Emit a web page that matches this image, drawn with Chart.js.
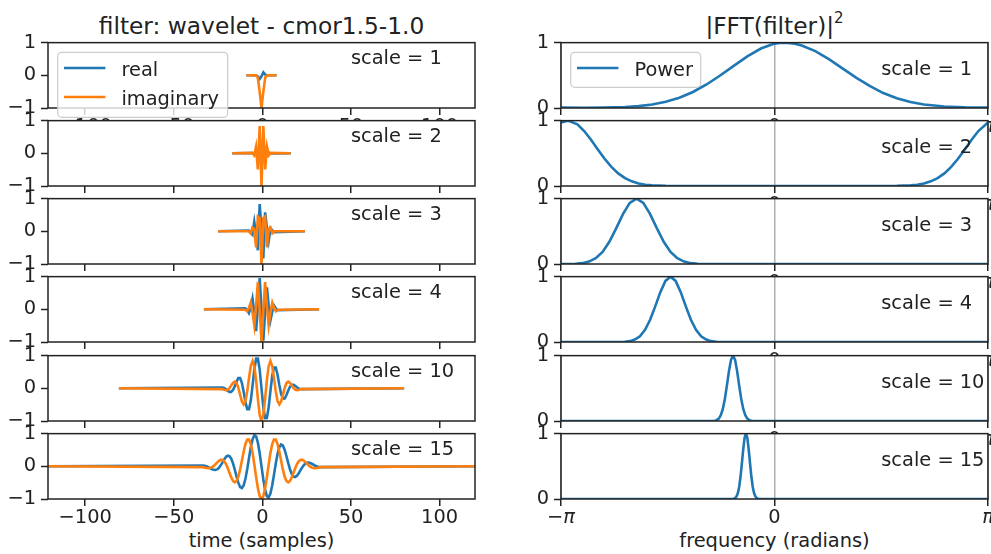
<!DOCTYPE html>
<html>
<head>
<meta charset="utf-8">
<script src="https://cdn.jsdelivr.net/npm/chart.js@4/dist/chart.umd.min.js"></script>
<style>
html, body { margin: 0; padding: 0; background: #fff; }
body { width: 991px; height: 554px; overflow: hidden; position: relative;
       font-family: 'DejaVu Sans', sans-serif; color: #222; }
canvas { position: absolute; }
.lbl { position: absolute; text-align: center; white-space: nowrap; }
.ttl { font-size: 23.3px; line-height: 28px; top: 12px; }
.xl { font-size: 19.4px; line-height: 23px; top: 529px; }
</style>
</head>
<body>
<div class="lbl ttl" style="left:48px;width:427px">filter: wavelet - cmor1.5-1.0</div>
<div class="lbl ttl" style="left:561px;width:427px">|FFT(filter)|<span style="font-size:15px;position:relative;top:-11px">2</span></div>
<div class="lbl xl" style="left:48px;width:427px">time (samples)</div>
<div class="lbl xl" style="left:561px;width:427px">frequency (radians)</div>
<script>
// wavelet scales shown in the rows
var scales = [1, 2, 3, 4, 10, 15];

// left column: discrete filter samples (time, real part, imaginary part)
var s1Time = [-9, -3.69, -2.63, -1.56, -0.5, 0.56, 1.63, 2.69, 8];
var s1Real = [0, 0, -0.027, -0.11, -0.03, 0.09, 0.021, 0, 0];
var s1Imag = [0, -0.003, -0.06, -0.49, -1, -0.49, -0.06, -0.003, 0];

var s2Time = [-17, -5.66, -4.63, -3.59, -2.56, -1.53, -0.5, 0.53, 1.56, 2.59, 3.63, 4.66, 16];
var s2Real = [0, 0.006, -0.025, 0.065, -0.104, 0.089, 0, -0.089, 0.104, -0.065, 0.025, -0.006, 0];
var s2Imag = [0, 0.012, -0.059, 0.203, -0.491, 0.837, -1, 0.837, -0.491, 0.203, -0.059, 0.012, 0];

var s3Time = [-25, -7.65, -6.63, -5.6, -4.58, -3.56, -2.54, -1.52, -0.5, 0.52, 1.54, 2.56, 3.58, 4.6, 5.63, 6.65, 24];
var s3Real = [0, 0.024, -0.025, -0.096, 0.285, -0.104, -0.58, 0.832, 0, -0.832, 0.58, 0.104, -0.285, 0.096, 0.025, -0.024, 0];
var s3Imag = [0, 0.002, -0.059, 0.112, 0.072, -0.491, 0.453, 0.405, -1, 0.405, 0.453, -0.491, 0.072, 0.112, -0.059, 0.002, 0];

var s4Time = [-33, -9.64, -8.63, -7.61, -6.59, -5.58, -4.56, -3.55, -2.53, -1.52, -0.5, 0.52, 1.53, 2.55, 3.56, 4.58, 5.59, 6.61, 7.63, 8.64, 32];
var s4Real = [0, 0.028, -0.025, -0.114, 0.065, 0.33, -0.104, -0.671, 0.089, 0.957, 0, -0.957, -0.089, 0.671, 0.104, -0.33, -0.065, 0.114, 0.025, -0.028, 0];
var s4Imag = [0, -0.013, -0.059, 0.042, 0.203, -0.087, -0.491, 0.107, 0.837, -0.051, -1, -0.051, 0.837, 0.107, -0.491, -0.087, 0.203, 0.042, -0.059, -0.013, 0];

var s10Time = [-81, -22.64, -21.63, -20.63, -19.62, -18.61, -17.61, -16.6, -15.59, -14.59, -13.58, -12.58, -11.57,
  -10.56, -9.56, -8.55, -7.54, -6.54, -5.53, -4.53, -3.52, -2.51, -1.51, -0.5, 0.51, 1.51, 2.52, 3.53, 4.53, 5.54,
  6.54, 7.55, 8.56, 9.56, 10.57, 11.58, 12.58, 13.59, 14.59, 15.6, 16.61, 17.61, 18.62, 19.63, 20.63, 21.64, 80];
var s10Real = [0, 0.026, 0.01, -0.025, -0.071, -0.108, -0.108, -0.051, 0.065, 0.206, 0.312, 0.314, 0.169,
  -0.104, -0.417, -0.637, -0.638, -0.375, 0.089, 0.586, 0.911, 0.912, 0.567, 0, -0.567, -0.912, -0.911, -0.586, -0.089, 0.375,
  0.638, 0.637, 0.417, 0.104, -0.169, -0.314, -0.312, -0.206, -0.065, 0.051, 0.108, 0.108, 0.071, 0.025, -0.01, -0.026, 0];
var s10Imag = [0, -0.025, -0.047, -0.059, -0.045, 0.005, 0.084, 0.164, 0.203, 0.158, 0.014, -0.198, -0.4,
  -0.491, -0.391, -0.094, 0.318, 0.684, 0.837, 0.677, 0.233, -0.34, -0.816, -1, -0.816, -0.34, 0.233, 0.677, 0.837, 0.684,
  0.318, -0.094, -0.391, -0.491, -0.4, -0.198, 0.014, 0.158, 0.203, 0.164, 0.084, 0.005, -0.045, -0.059, -0.047, -0.025, 0];

var s15Time = [-121, -33.64, -32.63, -31.63, -30.63, -29.62, -28.62, -27.61, -26.61, -25.6, -24.6, -23.6, -22.59,
  -21.59, -20.58, -19.58, -18.58, -17.57, -16.57, -15.56, -14.56, -13.55, -12.55, -11.55, -10.54, -9.54, -8.53,
  -7.53, -6.53, -5.52, -4.52, -3.51, -2.51, -1.5, -0.5, 0.5, 1.51, 2.51, 3.52, 4.52, 5.53, 6.53, 7.53, 8.54, 9.54,
  10.55, 11.55, 12.55, 13.56, 14.56, 15.57, 16.57, 17.58, 18.58, 19.58, 20.59, 21.59, 22.6, 23.6, 24.6, 25.61,
  26.61, 27.62, 28.62, 29.63, 30.63, 31.63, 32.64, 120];
var s15Real = [0, 0.026, 0.018, 0, -0.025, -0.056, -0.085, -0.108, -0.114, -0.096, -0.051, 0.021, 0.111,
  0.206, 0.285, 0.327, 0.314, 0.234, 0.089, -0.104, -0.316, -0.508, -0.637, -0.667, -0.58, -0.375, -0.079,
  0.261, 0.586, 0.832, 0.951, 0.912, 0.715, 0.393, 0, -0.393, -0.715, -0.912, -0.951, -0.832, -0.586, -0.261, 0.079, 0.375, 0.58,
  0.667, 0.637, 0.508, 0.316, 0.104, -0.089, -0.234, -0.314, -0.327, -0.285, -0.206, -0.111, -0.021, 0.051, 0.096, 0.114,
  0.108, 0.085, 0.056, 0.025, 0, -0.018, -0.026, 0];
var s15Imag = [0, -0.025, -0.04, -0.053, -0.059, -0.053, -0.032, 0.006, 0.056, 0.112, 0.164, 0.198, 0.199,
  0.158, 0.072, -0.052, -0.198, -0.34, -0.448, -0.491, -0.449, -0.312, -0.094, 0.177, 0.453, 0.684, 0.818,
  0.82, 0.678, 0.405, 0.046, -0.34, -0.682, -0.916, -1, -0.916, -0.682, -0.34, 0.046, 0.405, 0.678, 0.82, 0.818, 0.684, 0.453,
  0.177, -0.094, -0.312, -0.449, -0.491, -0.448, -0.34, -0.198, -0.052, 0.072, 0.158, 0.199, 0.198, 0.164, 0.112, 0.056,
  0.006, -0.032, -0.053, -0.059, -0.053, -0.04, -0.025, 0];

// right column: normalised power spectrum (frequency, power)
var p1Freq = [-3.1416, -2.8, -2.5, -2.2, -2.0, -1.8, -1.6, -1.4, -1.2, -1.0, -0.8, -0.6, -0.4, -0.2, 0, 0.1, 0.2,
  0.3, 0.4, 0.6, 0.8, 1.0, 1.2, 1.4, 1.6, 1.8, 2.0, 2.2, 2.5, 2.8, 3.1416];
var p1Power = [0.005, 0.004, 0.007, 0.016, 0.029, 0.053, 0.094, 0.156, 0.245, 0.36, 0.497, 0.645, 0.79, 0.91, 0.985, 1.0, 0.996,
  0.982, 0.957, 0.87, 0.748, 0.607, 0.465, 0.337, 0.229, 0.148, 0.091, 0.053, 0.022, 0.01, 0.005];

var p2Freq = [-3.1416, -3.04, -2.9, -2.8, -2.7, -2.6, -2.5, -2.4, -2.3, -2.2, -2.1, -2.0, -1.9, -1.8, -1.6, -1.4,
  1.6, 1.8, 2.0, 2.1, 2.2, 2.3, 2.4, 2.5, 2.6, 2.7, 2.8, 2.9, 3.0, 3.1416];
var p2Power = [0.97, 1.0, 0.943, 0.841, 0.707, 0.559, 0.417, 0.293, 0.193, 0.12, 0.071, 0.039, 0.02, 0.01, 0.002, 0,
  0, 0.002, 0.01, 0.02, 0.039, 0.071, 0.12, 0.193, 0.293, 0.417, 0.559, 0.707, 0.841, 0.971];

var p3Freq = [-3.1416, -3.03, -2.93, -2.83, -2.73, -2.63, -2.53, -2.43, -2.33, -2.23, -2.13, -2.03, -1.93, -1.83,
  -1.73, -1.63, -1.53, -1.43, -1.33, -1.23, -1.13, -1.03, 3.1416];
var p3Power = [0, 0.001, 0.004, 0.013, 0.037, 0.088, 0.185, 0.34, 0.545, 0.763, 0.935, 1.0, 0.935, 0.763,
  0.545, 0.34, 0.185, 0.088, 0.037, 0.013, 0.004, 0.001, 0];

var p4Freq = [-3.1416, -2.28, -2.205, -2.13, -2.055, -1.98, -1.905, -1.83, -1.755, -1.68, -1.605, -1.53, -1.455,
  -1.38, -1.305, -1.23, -1.155, -1.08, -1.005, -0.93, -0.855, -0.78, 3.1416];
var p4Power = [0, 0.001, 0.004, 0.013, 0.037, 0.088, 0.185, 0.34, 0.545, 0.763, 0.935, 1.0, 0.935,
  0.763, 0.545, 0.34, 0.185, 0.088, 0.037, 0.013, 0.004, 0.001, 0];

var p10Freq = [-3.1416, -0.91, -0.88, -0.85, -0.82, -0.79, -0.76, -0.73, -0.7, -0.67, -0.64, -0.61, -0.58, -0.55,
  -0.52, -0.49, -0.46, -0.43, -0.4, -0.37, -0.34, -0.31, 3.1416];
var p10Power = [0, 0.001, 0.004, 0.013, 0.037, 0.088, 0.185, 0.34, 0.545, 0.763, 0.935, 1.0, 0.935, 0.763,
  0.545, 0.34, 0.185, 0.088, 0.037, 0.013, 0.004, 0.001, 0];

var p15Freq = [-3.1416, -0.62, -0.6, -0.58, -0.56, -0.54, -0.52, -0.5, -0.48, -0.46, -0.44, -0.42, -0.4, -0.38,
  -0.36, -0.34, -0.32, -0.3, -0.28, -0.26, -0.24, -0.22, 3.1416];
var p15Power = [0, 0.001, 0.004, 0.013, 0.037, 0.088, 0.185, 0.34, 0.545, 0.763, 0.935, 1.0, 0.935, 0.763,
  0.545, 0.34, 0.185, 0.088, 0.037, 0.013, 0.004, 0.001, 0];

var timeTicks = [-100, -50, 0, 50, 100];
var freqTicks = [-Math.PI, 0, Math.PI];
var freqTickLabels = ['\u2212\u03c0', '0', '\u03c0'];

var waveRows = [[s1Time, s1Real, s1Imag], [s2Time, s2Real, s2Imag], [s3Time, s3Real, s3Imag],
  [s4Time, s4Real, s4Imag], [s10Time, s10Real, s10Imag], [s15Time, s15Real, s15Imag]];
var powerRows = [[p1Freq, p1Power], [p2Freq, p2Power], [p3Freq, p3Power],
  [p4Freq, p4Power], [p10Freq, p10Power], [p15Freq, p15Power]];

var FONT = "'DejaVu Sans', sans-serif";
var INK = '#222';
var BLUE = '#1f77b4', ORANGE = '#ff7f0e';
var rowTop = [43, 121, 199, 277, 356, 434];
var colLeft = [48, 561];
var plotW = 427, plotH = 65;
var padL = 48, padT = 12, padR = 6, padB = 40;

Chart.defaults.font.family = FONT;
Chart.defaults.font.size = 19.4;
Chart.defaults.color = INK;

function pts(xs, ys) {
  return xs.map(function (x, i) { return { x: x, y: ys[i] }; });
}

function minusify(v) {
  return v < 0 ? '\u2212' + Math.abs(v) : String(v);
}

var framePlugin = {
  id: 'frame',
  beforeDraw: function (chart) {
    var a = chart.chartArea, c = chart.ctx;
    c.save();
    c.fillStyle = '#fff';
    c.fillRect(a.left, a.top, a.right - a.left, a.bottom - a.top);
    c.restore();
  },
  afterDatasetsDraw: function (chart, args, o) {
    var a = chart.chartArea, c = chart.ctx;
    c.save();
    c.font = '19.4px ' + FONT;
    c.fillStyle = INK;
    c.textAlign = 'left';
    c.textBaseline = 'alphabetic';
    c.fillText(o.text, chart.scales.x.getPixelForValue(o.tx), chart.scales.y.getPixelForValue(o.ty));
    c.strokeStyle = INK;
    c.lineWidth = 1.5;
    c.strokeRect(a.left, a.top, a.right - a.left, a.bottom - a.top);
    if (o.legend) {
      var bx = a.left + 9.7, by = a.top + 9.7, w = o.legend.w, h = o.legend.h, r = 4;
      c.beginPath();
      c.moveTo(bx + r, by);
      c.arcTo(bx + w, by, bx + w, by + h, r);
      c.arcTo(bx + w, by + h, bx, by + h, r);
      c.arcTo(bx, by + h, bx, by, r);
      c.arcTo(bx, by, bx + w, by, r);
      c.closePath();
      c.fillStyle = 'rgba(255,255,255,0.8)';
      c.fill();
      c.strokeStyle = '#cccccc';
      c.lineWidth = 1.2;
      c.stroke();
      chart.data.datasets.forEach(function (ds, i) {
        var cy = by + 15.6 + i * 29;
        c.strokeStyle = ds.borderColor;
        c.lineWidth = 2.6;
        c.beginPath();
        c.moveTo(bx + 6.3, cy);
        c.lineTo(bx + 47.7, cy);
        c.stroke();
        c.fillStyle = INK;
        c.textBaseline = 'alphabetic';
        c.fillText(ds.label, bx + 63.7, cy + 8);
      });
    }
    c.restore();
  }
};

function makePanel(col, row) {
  var cv = document.createElement('canvas');
  cv.width = padL + plotW + padR;
  cv.height = padT + plotH + padB;
  cv.style.left = (colLeft[col] - padL) + 'px';
  cv.style.top = (rowTop[row] - padT) + 'px';
  document.body.appendChild(cv);

  var right = col === 1;
  var datasets;
  if (right) {
    var p = powerRows[row];
    datasets = [{ label: 'Power', data: pts(p[0], p[1]), borderColor: BLUE }];
  } else {
    var wv = waveRows[row];
    datasets = [
      { label: 'real', data: pts(wv[0], wv[1]), borderColor: BLUE, order: 1 },
      { label: 'imaginary', data: pts(wv[0], wv[2]), borderColor: ORANGE, order: 0 }
    ];
  }
  datasets.forEach(function (d) {
    d.borderWidth = 2.6; d.pointRadius = 0; d.fill = false; d.tension = 0;
  });
  var last = row === scales.length - 1;
  var xt = right ? freqTicks : timeTicks;
  var yt = right ? [0, 1] : [-1, 0, 1];
  var legend = null;
  if (row === 0) legend = right ? { w: 130, h: 35 } : { w: 170, h: 65 };

  var chart = new Chart(cv, {
    type: 'line',
    data: { datasets: datasets },
    options: {
      responsive: false,
      maintainAspectRatio: false,
      animation: false,
      devicePixelRatio: 1,
      layout: { padding: { top: padT, right: padR, left: 0, bottom: 0 }, autoPadding: false },
      plugins: {
        legend: { display: false },
        tooltip: { enabled: false },
        frame: {
          text: 'scale = ' + scales[row],
          tx: right ? Math.PI / 2 : 50,
          ty: right ? 0.5 : 0.35,
          legend: legend
        }
      },
      scales: {
        x: {
          type: 'linear',
          min: right ? -Math.PI : -121,
          max: right ? Math.PI : 120,
          afterBuildTicks: function (s) { s.ticks = xt.map(function (v) { return { value: v }; }); },
          afterFit: function (s) { s.height = padB; },
          border: { display: false },
          grid: { drawOnChartArea: right, color: '#b0b0b0', lineWidth: 1.5, drawTicks: true,
                  tickLength: 7, tickWidth: 1.5, tickColor: INK },
          ticks: {
            padding: 0, maxRotation: 0, autoSkip: false, color: INK,
            font: function (ctx) {
              var it = right && ctx.tick && ctx.tick.value !== 0;
              return { family: FONT, size: 19.4, style: it ? 'italic' : 'normal' };
            },
            callback: function (v, i) {
              if (right) return (last || i > 0) ? freqTickLabels[i] : '';
              return (last || row === 0) ? minusify(v) : '';
            }
          }
        },
        y: {
          min: right ? 0 : -1,
          max: 1,
          afterBuildTicks: function (s) { s.ticks = yt.map(function (v) { return { value: v }; }); },
          afterFit: function (s) { s.width = padL; },
          border: { display: false },
          grid: { drawOnChartArea: false, drawTicks: true, tickLength: 7, tickWidth: 1.5, tickColor: INK },
          ticks: { padding: 5, color: INK, callback: function (v) { return minusify(v); } }
        }
      }
    },
    plugins: [framePlugin]
  });

  // make the plot box land exactly on its grid cell
  for (var k = 0; k < 3; k++) {
    var a0 = chart.chartArea;
    var dh = plotH - Math.round(a0.bottom - a0.top);
    var dw = plotW - Math.round(a0.right - a0.left);
    if (dh === 0 && dw === 0) break;
    chart.resize(chart.width + dw, chart.height + dh);
  }
  var a = chart.chartArea;
  cv.style.left = (colLeft[col] - a.left) + 'px';
  cv.style.top = (rowTop[row] - a.top) + 'px';
}

for (var c = 0; c < 2; c++) {
  for (var r = 0; r < scales.length; r++) makePanel(c, r);
}
</script>
</body>
</html>
